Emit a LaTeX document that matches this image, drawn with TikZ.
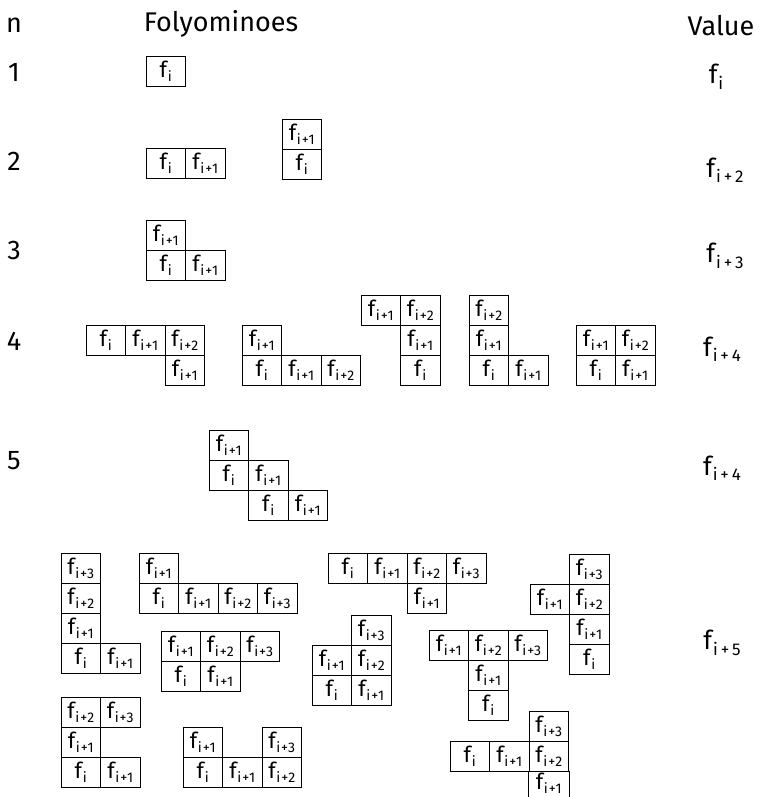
\documentclass[tikz,border=0pt]{standalone}
\usepackage{fontspec}
\setmainfont{Fira Sans}
\newcommand\fcell[1]{{\fontsize{22}{22}\selectfont f}\kern0.8pt\raisebox{-3.8pt}{\fontsize{14}{14}\selectfont\addfontfeature{LetterSpace=6}#1}}
\newcommand\fval[1]{{\fontsize{26}{26}\selectfont f}\kern1pt\raisebox{-5.5pt}{\fontsize{17}{17}\selectfont #1}}
\newcommand\cel[6]{\node[cellbox] (#1) at ({#2+(#4+0.5)*39.5},{#3+(#5+0.5)*30}) {\fcell{#6}};}
\begin{document}
\begin{tikzpicture}[x=1pt,y=-1pt,
  cellbox/.style={draw, line width=0.9pt, minimum width=39.5pt, minimum height=30pt, inner sep=0pt},
  edge/.style={line width=0.9pt},
  head/.style={font=\fontsize{27}{27}\selectfont, inner sep=0pt},
  val/.style={inner sep=0pt}]
\useasboundingbox (0,0) rectangle (760,797);
% headings
\node[head] (hn) at (14,25) {n};
\node[head] (hf) at (221,24) {Folyominoes};
\node[head] (hv) at (721,26) {Value};
% row numbers
\node[head] (r1) at (14,72) {1};
\node[head] (r2) at (14,161) {2};
\node[head] (r3) at (14,250) {3};
\node[head] (r4) at (14,341) {4};
\node[head] (r5) at (14,461) {5};
% values
\node[val] (v1) at (716,77) {\fval{i}};
\node[val] (v2) at (725,170) {\fval{i\,+\,2}};
\node[val] (v3) at (725,256) {\fval{i\,+\,3}};
\node[val] (v4) at (722,349) {\fval{i\,+\,4}};
\node[val] (v5) at (722,468) {\fval{i\,+\,4}};
\node[val] (v6) at (722,643) {\fval{i\,+\,5}};
% n = 1
\cel{a00}{146}{56}{0}{0}{i}
% n = 2
\cel{b00}{146}{148}{0}{0}{i}
\cel{b10}{146}{148}{1}{0}{i+1}
\cel{c00}{282}{119}{0}{0}{i+1}
\cel{c01}{282}{119}{0}{1}{i}
% n = 3
\cel{d00}{146}{220}{0}{0}{i+1}
\cel{d01}{146}{220}{0}{1}{i}
\cel{d11}{146}{220}{1}{1}{i+1}
% n = 4
\cel{e00}{86}{325}{0}{0}{i}
\cel{e10}{86}{325}{1}{0}{i+1}
\cel{e20}{86}{325}{2}{0}{i+2}
\cel{e21}{86}{325}{2}{1}{i+1}
\cel{f00}{242}{325}{0}{0}{i+1}
\cel{f01}{242}{325}{0}{1}{i}
\cel{f11}{242}{325}{1}{1}{i+1}
\cel{f21}{242}{325}{2}{1}{i+2}
\cel{g00}{361}{295}{0}{0}{i+1}
\cel{g10}{361}{295}{1}{0}{i+2}
\cel{g11}{361}{295}{1}{1}{i+1}
\cel{g12}{361}{295}{1}{2}{i}
\cel{h00}{469}{295}{0}{0}{i+2}
\cel{h01}{469}{295}{0}{1}{i+1}
\cel{h02}{469}{295}{0}{2}{i}
\cel{h12}{469}{295}{1}{2}{i+1}
\cel{k00}{576}{325}{0}{0}{i+1}
\cel{k10}{576}{325}{1}{0}{i+2}
\cel{k01}{576}{325}{0}{1}{i}
\cel{k11}{576}{325}{1}{1}{i+1}
% n = 5
\cel{m00}{209}{430}{0}{0}{i+1}
\cel{m01}{209}{430}{0}{1}{i}
\cel{m11}{209}{430}{1}{1}{i+1}
\cel{m12}{209}{430}{1}{2}{i}
\cel{m22}{209}{430}{2}{2}{i+1}
% n = 6
\cel{pa00}{61}{553}{0}{0}{i+3}
\cel{pa01}{61}{553}{0}{1}{i+2}
\cel{pa02}{61}{553}{0}{2}{i+1}
\cel{pa03}{61}{553}{0}{3}{i}
\cel{pa13}{61}{553}{1}{3}{i+1}
\cel{pb00}{139}{553}{0}{0}{i+1}
\cel{pb01}{139}{553}{0}{1}{i}
\cel{pb11}{139}{553}{1}{1}{i+1}
\cel{pb21}{139}{553}{2}{1}{i+2}
\cel{pb31}{139}{553}{3}{1}{i+3}
\cel{pc00}{161}{631}{0}{0}{i+1}
\cel{pc10}{161}{631}{1}{0}{i+2}
\cel{pc20}{161}{631}{2}{0}{i+3}
\cel{pc01}{161}{631}{0}{1}{i}
\cel{pc11}{161}{631}{1}{1}{i+1}
\cel{pd00}{328}{553}{0}{0}{i}
\cel{pd10}{328}{553}{1}{0}{i+1}
\cel{pd20}{328}{553}{2}{0}{i+2}
\cel{pd30}{328}{553}{3}{0}{i+3}
\cel{pd21}{328}{553}{2}{1}{i+1}
\cel{pe10}{530}{554}{1}{0}{i+3}
\cel{pe01}{530}{554}{0}{1}{i+1}
\cel{pe11}{530}{554}{1}{1}{i+2}
\cel{pe12}{530}{554}{1}{2}{i+1}
\cel{pe13}{530}{554}{1}{3}{i}
\cel{pf10}{312}{615}{1}{0}{i+3}
\cel{pf01}{312}{615}{0}{1}{i+1}
\cel{pf11}{312}{615}{1}{1}{i+2}
\cel{pf02}{312}{615}{0}{2}{i}
\cel{pf12}{312}{615}{1}{2}{i+1}
\cel{pg00}{429}{630}{0}{0}{i+1}
\cel{pg10}{429}{630}{1}{0}{i+2}
\cel{pg20}{429}{630}{2}{0}{i+3}
\cel{pg11}{429}{630}{1}{1}{i+1}
\cel{pg12}{429}{630}{1}{2}{i}
\cel{ph00}{61}{697}{0}{0}{i+2}
\cel{ph10}{61}{697}{1}{0}{i+3}
\cel{ph01}{61}{697}{0}{1}{i+1}
\cel{ph02}{61}{697}{0}{2}{i}
\cel{ph12}{61}{697}{1}{2}{i+1}
\cel{pi00}{183}{727}{0}{0}{i+1}
\cel{pi20}{183}{727}{2}{0}{i+3}
\cel{pi01}{183}{727}{0}{1}{i}
\cel{pi11}{183}{727}{1}{1}{i+1}
\cel{pi21}{183}{727}{2}{1}{i+2}
\cel{pj20}{450}{711}{2}{0}{i+3}
\cel{pj01}{450}{711}{0}{1}{i}
\cel{pj11}{450}{711}{1}{1}{i+1}
\cel{pj21}{450}{711}{2}{1}{i+2}
% last cell, cut off by the lower edge
\node[cellbox, draw=none] (pj22) at ({450+2.5*39.5},783) {\fcell{i+1}};
\draw[edge] (pj21.south west) -- ++(0,30);
\draw[edge] (pj21.south east) -- ++(0,30);
\end{tikzpicture}
\end{document}
